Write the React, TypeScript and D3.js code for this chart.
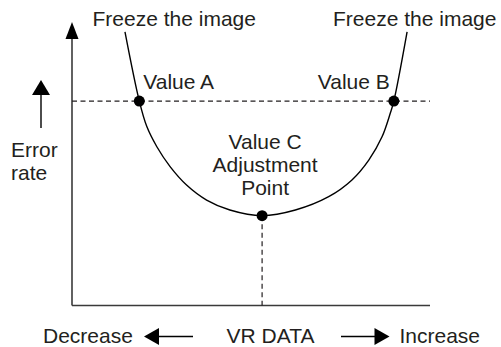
import React from "react";
import * as d3 from "d3";

const width = 501;
const height = 347;

// U-shaped error curve (0-100 on both axes)
const curveX = [14.8, 18.8, 20.9, 23.7, 27.4, 32.0, 37.6, 44.1, 53.1, 62.4, 71.7, 78.2, 82.9, 86.6, 88.9, 89.9, 93.6];
const curveY = [96.5, 72.1, 63.1, 56.0, 49.0, 42.5, 37.2, 33.7, 31.7, 33.7, 38.4, 44.3, 51.3, 59.5, 67.8, 72.1, 96.5];

// marked points A, B and C
const pointNames = ["A", "B", "C"];
const pointX = [18.8, 89.9, 53.1];
const pointY = [72.1, 72.1, 31.7];

const topLabel = "Freeze the image";
const xLabels = ["Decrease", "VR DATA", "Increase"];
const yLabel = ["Error", "rate"];
const cLabel = ["Value C", "Adjustment", "Point"];

const font = "'Liberation Sans', Arial, Helvetica, sans-serif";
const ink = "#231f20";

const x = d3.scaleLinear().domain([0, 100]).range([72, 430]);
const y = d3.scaleLinear().domain([0, 100]).range([305.5, 22]);

export default function App() {
  const pts: [number, number][] = curveX.map((v, i) => [x(v), y(curveY[i])]);
  const line = d3.line().curve(d3.curveCatmullRom.alpha(0.5));
  const [ax, bx, cx] = pointX.map((v) => x(v));
  const [ay, by, cy] = pointY.map((v) => y(v));
  const x0 = x(0), x1 = x(100), yb = y(0), yt = y(100);

  const txt = { fontFamily: font, fontSize: 21, fill: ink };

  return (
    <svg width={width} height={height} style={{ position: "absolute", left: 0, top: 0, background: "#fff" }}>
      {/* axes */}
      <line x1={x0} y1={yb} x2={x1} y2={yb} stroke="#3a3a3a" strokeWidth={1.6} />
      <line x1={x0} y1={yb} x2={x0} y2={yt + 14} stroke="#3a3a3a" strokeWidth={1.6} />
      <path d={`M${x0},${yt} L${x0 + 6.5},${yt + 17} L${x0 - 6.5},${yt + 17} Z`} fill="#000" />

      {/* dashed guides */}
      <line x1={x0} y1={ay} x2={x1} y2={by} stroke={ink} strokeWidth={1.2} strokeDasharray="5,3.5" />
      <line x1={cx} y1={cy} x2={cx} y2={yb} stroke={ink} strokeWidth={1.2} strokeDasharray="5,3.5" />

      {/* curve */}
      <path d={line(pts) || ""} fill="none" stroke="#000" strokeWidth={1.4} />

      {pointNames.map((n, i) => (
        <circle key={n} cx={x(pointX[i])} cy={y(pointY[i])} r={5.5} fill="#000" />
      ))}

      {/* labels */}
      <text x={92.5} y={26} {...txt}>{topLabel}</text>
      <text x={333} y={26} {...txt}>{topLabel}</text>
      <text x={ax + 4} y={ay - 12.5} {...txt}>{"Value " + pointNames[0]}</text>
      <text x={bx - 4} y={by - 12.5} textAnchor="end" {...txt}>{"Value " + pointNames[1]}</text>
      {cLabel.map((t, i) => (
        <text key={t} x={cx + 3} y={cy - 67 + i * 23} textAnchor="middle" {...txt}>{t}</text>
      ))}

      {/* y label with arrow */}
      <line x1={41} y1={128} x2={41} y2={92} stroke="#000" strokeWidth={1.4} />
      <path d="M41,80 L50,95 L32,95 Z" fill="#000" />
      {yLabel.map((t, i) => (
        <text key={t} x={11} y={157 + i * 22.5} {...txt}>{t}</text>
      ))}

      {/* x labels with arrows */}
      <text x={43} y={343} {...txt}>{xLabels[0]}</text>
      <line x1={156} y1={336.5} x2={193} y2={336.5} stroke="#000" strokeWidth={1.4} />
      <path d="M144,336.5 L159,328 L159,345 Z" fill="#000" />
      <text x={270.5} y={343} textAnchor="middle" {...txt}>{xLabels[1]}</text>
      <line x1={341} y1={336.5} x2={377} y2={336.5} stroke="#000" strokeWidth={1.4} />
      <path d="M389.5,336.5 L374.5,328 L374.5,345 Z" fill="#000" />
      <text x={399.5} y={343} {...txt}>{xLabels[2]}</text>
    </svg>
  );
}
